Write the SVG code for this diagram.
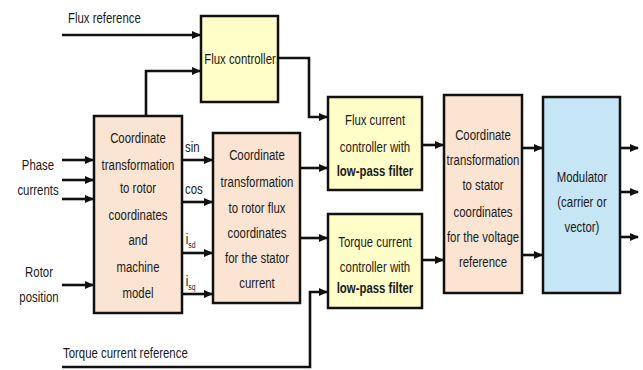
<svg xmlns="http://www.w3.org/2000/svg" width="643" height="370" viewBox="0 0 643 370">
<defs>
<marker id="ah" markerWidth="9" markerHeight="8" refX="8" refY="4" orient="auto" markerUnits="userSpaceOnUse">
<path d="M0,0 L9,4 L0,8 z" fill="#111"/>
</marker>
<style>
.t{font-family:"Liberation Sans",Arial,sans-serif;font-size:15px;fill:#1a1a1a;text-anchor:middle}
.l{text-anchor:start}
.b{font-weight:bold}
.box{stroke:#111;stroke-width:2.5}
.y{fill:#fffdc8}
.p{fill:#fbe5d2}
.bl{fill:#c6e5f5}
.c{fill:none;stroke:#111;stroke-width:2.6;marker-end:url(#ah)}
.s{font-size:9px}
</style>
</defs>
<rect width="643" height="370" fill="#ffffff"/>
<g id="connectors">
<path class="c" d="M62,35 H200"/>
<path class="c" d="M146,116 V71 H200"/>
<path class="c" d="M278,58 H309 V117 H327"/>
<path class="c" d="M62,160 H93"/>
<path class="c" d="M62,180 H93"/>
<path class="c" d="M62,199 H93"/>
<path class="c" d="M62,285 H93"/>
<path class="c" d="M182,160 H212"/>
<path class="c" d="M182,202 H212"/>
<path class="c" d="M182,253 H212"/>
<path class="c" d="M182,294 H212"/>
<path class="c" d="M300,168 H327"/>
<path class="c" d="M300,238 H327"/>
<path class="c" d="M62,367 H310 V292 H327"/>
<path class="c" d="M422,145 H443"/>
<path class="c" d="M422,260 H443"/>
<path class="c" d="M522,148 H542"/>
<path class="c" d="M522,255 H542"/>
<path class="c" d="M620,148 H638"/>
<path class="c" d="M620,192 H638"/>
<path class="c" d="M620,237 H638"/>
</g>
<g id="labels">
<g transform="translate(68,0) scale(0.76,1)"><text class="t l" x="0" y="23">Flux reference</text></g>
<g transform="translate(38,0) scale(0.76,1)">
<text class="t" x="0" y="170">Phase</text>
<text class="t" x="0" y="195">currents</text>
</g>
<g transform="translate(39,0) scale(0.76,1)">
<text class="t" x="0" y="277">Rotor</text>
<text class="t" x="0" y="302">position</text>
</g>
<g transform="translate(185,0) scale(0.76,1)">
<text class="t l" x="0" y="152">sin</text>
<text class="t l" x="0" y="194">cos</text>
<text class="t l" x="1" y="244">i<tspan class="s" dy="4">sd</tspan></text>
<text class="t l" x="1" y="286">i<tspan class="s" dy="4">sq</tspan></text>
</g>
<g transform="translate(63,0) scale(0.76,1)"><text class="t l" x="0" y="358">Torque current reference</text></g>
</g>
<g id="flux-controller">
<rect class="box y" x="201" y="16" width="77" height="86"/>
<g transform="translate(240,0) scale(0.76,1)"><text class="t" x="0" y="64">Flux controller</text></g>
</g>
<g id="coord-rotor">
<rect class="box p" x="94" y="116" width="88" height="197"/>
<g transform="translate(138,0) scale(0.76,1)">
<text class="t" x="0" y="143">Coordinate</text>
<text class="t" x="0" y="170">transformation</text>
<text class="t" x="0" y="193">to rotor</text>
<text class="t" x="0" y="220">coordinates</text>
<text class="t" x="0" y="245">and</text>
<text class="t" x="0" y="272">machine</text>
<text class="t" x="0" y="298">model</text>
</g>
</g>
<g id="coord-flux">
<rect class="box p" x="213" y="133" width="87" height="170"/>
<g transform="translate(257,0) scale(0.76,1)">
<text class="t" x="0" y="160">Coordinate</text>
<text class="t" x="0" y="187">transformation</text>
<text class="t" x="0" y="213">to rotor flux</text>
<text class="t" x="0" y="238">coordinates</text>
<text class="t" x="0" y="263">for the stator</text>
<text class="t" x="0" y="288">current</text>
</g>
</g>
<g id="flux-current-controller">
<rect class="box y" x="328" y="97" width="94" height="93"/>
<g transform="translate(375,0) scale(0.76,1)">
<text class="t" x="0" y="125">Flux current</text>
<text class="t" x="0" y="152">controller with</text>
<text class="t b" x="0" y="176">low-pass filter</text>
</g>
</g>
<g id="torque-current-controller">
<rect class="box y" x="328" y="214" width="94" height="94"/>
<g transform="translate(375,0) scale(0.76,1)">
<text class="t" x="0" y="247">Torque current</text>
<text class="t" x="0" y="272">controller with</text>
<text class="t b" x="0" y="293">low-pass filter</text>
</g>
</g>
<g id="coord-stator">
<rect class="box p" x="444" y="95" width="78" height="198"/>
<g transform="translate(483,0) scale(0.76,1)">
<text class="t" x="0" y="140">Coordinate</text>
<text class="t" x="0" y="165">transformation</text>
<text class="t" x="0" y="190">to stator</text>
<text class="t" x="0" y="217">coordinates</text>
<text class="t" x="0" y="242">for the voltage</text>
<text class="t" x="0" y="267">reference</text>
</g>
</g>
<g id="modulator">
<rect class="box bl" x="543" y="97" width="77" height="196"/>
<g transform="translate(582,0) scale(0.76,1)">
<text class="t" x="0" y="182">Modulator</text>
<text class="t" x="0" y="207">(carrier or</text>
<text class="t" x="0" y="232">vector)</text>
</g>
</g>
</svg>
